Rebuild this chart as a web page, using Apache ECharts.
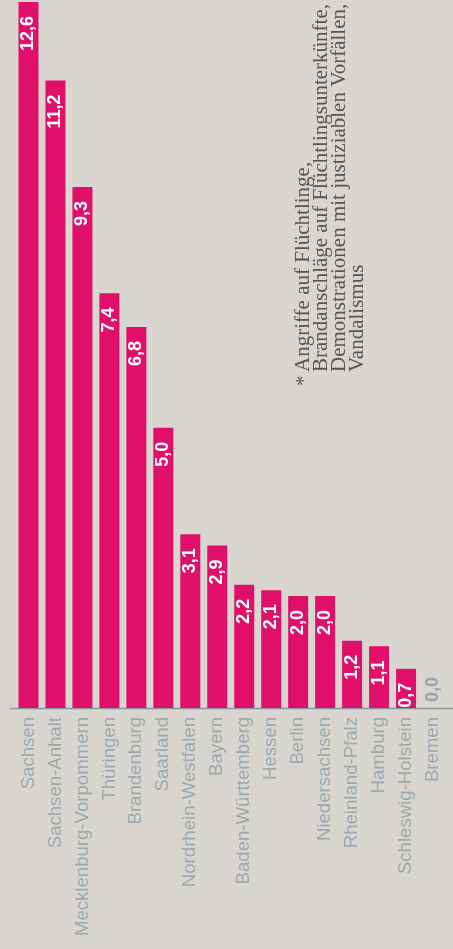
<!DOCTYPE html>
<html><head><meta charset="utf-8">
<script src="https://cdn.jsdelivr.net/npm/echarts@6/dist/echarts.min.js"></script>
<style>html,body{margin:0;padding:0;background:#d9d6d0;}#c{width:453px;height:949px;}</style>
</head><body><div id="c"></div>
<script>
var categories = ["Sachsen","Sachsen-Anhalt","Mecklenburg-Vorpommern","Thüringen","Brandenburg","Saarland","Nordrhein-Westfalen","Bayern","Baden-Württemberg","Hessen","Berlin","Niedersachsen","Rheinland-Pfalz","Hamburg","Schleswig-Holstein","Bremen"];
var values = [12.6, 11.2, 9.3, 7.4, 6.8, 5.0, 3.1, 2.9, 2.2, 2.1, 2.0, 2.0, 1.2, 1.1, 0.7, 0.0];
var footnoteStar = "*";
var footnoteLines = ["Angriffe auf Flüchtlinge,", "Brandanschläge auf Flüchtlingsunterkünfte,", "Demonstrationen mit justiziablen Vorfällen,", "Vandalismus"];

var chart = echarts.init(document.getElementById('c'));
function fmt(v){ return v.toFixed(1).replace('.', ','); }
var data = values.map(function(v){
  if (v === 0) {
    return {value: v, label: {position: 'top', align: 'left', color: '#97a3ac', distance: 6}};
  }
  return v;
});
chart.setOption({
  backgroundColor: '#d9d6d0',
  animation: false,
  grid: {left: 15, right: 6.5, top: 2, bottom: 241},
  xAxis: {
    type: 'category', data: categories,
    axisLine: {show: false}, axisTick: {show: false},
    axisLabel: {rotate: 90, margin: 9, fontFamily: 'Liberation Sans', fontSize: 18.6, color: '#9ca7ae', interval: 0}
  },
  yAxis: {type: 'value', min: 0, max: 12.6, show: false, splitLine: {show: false}},
  series: [{
    type: 'bar', data: data, barWidth: 20,
    itemStyle: {color: '#e0106a'},
    label: {
      show: true, position: 'insideTop', rotate: 90, align: 'right', verticalAlign: 'middle',
      distance: 14, color: '#ffffff', fontFamily: 'Liberation Sans', fontWeight: 'bold', fontSize: 18,
      formatter: function(p){ return fmt(p.value); }
    }
  }]
});
var y0 = chart.convertToPixel({yAxisIndex: 0}, 0);
chart.setOption({
  graphic: [
    {type: 'line', shape: {x1: 10, y1: y0 + 0.5, x2: 453, y2: y0 + 0.5}, style: {stroke: '#8796a3', lineWidth: 1.3}},
    {type: 'text', x: 294, y: 386, rotation: Math.PI / 2,
      style: {text: footnoteStar, font: '21px "Liberation Serif"', fill: '#555555', textAlign: 'left', textVerticalAlign: 'top'}},
    {type: 'text', x: 294, y: 372, rotation: Math.PI / 2,
      style: {text: footnoteLines.join('\n'), font: '21px "Liberation Serif"', lineHeight: 18, fill: '#555555', textAlign: 'left', textVerticalAlign: 'top'}}
  ]
});
</script></body></html>
